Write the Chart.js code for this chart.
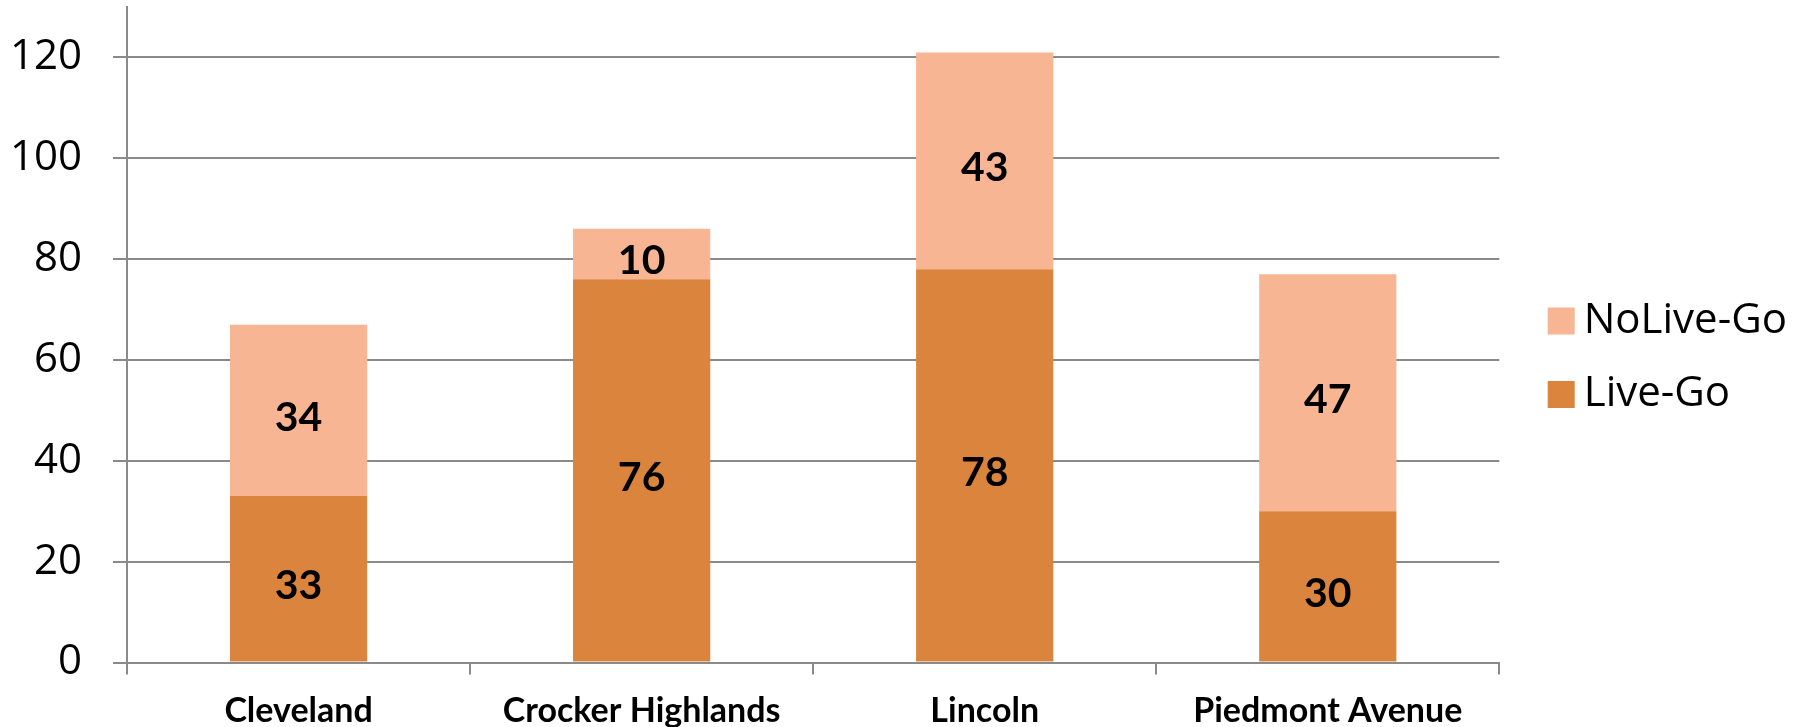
<!DOCTYPE html>
<html>
<head>
<meta charset="utf-8">
<script src="https://cdn.jsdelivr.net/npm/chart.js@4/dist/chart.umd.min.js"></script>
<style>
  html, body { margin: 0; padding: 0; background: #fff; overflow: hidden; }
  #wrap { width: 1808px; height: 727px; position: relative; }
</style>
</head>
<body>
<div id="wrap"><canvas id="c"></canvas></div>
<script>
const categories = ["Cleveland", "Crocker Highlands", "Lincoln", "Piedmont Avenue"];
const liveGo = [33, 76, 78, 30];
const noLiveGo = [34, 10, 43, 47];
const yMax = 130;
const yTickValues = [0, 20, 40, 60, 80, 100, 120];

const gridGrey = "#8a8a8a";

Chart.defaults.font.family = "Lato";
Chart.defaults.color = "#000";

// value labels in the middle of each segment
const segmentLabels = {
  id: "segmentLabels",
  afterDatasetsDraw(chart) {
    const ctx = chart.ctx;
    ctx.save();
    ctx.font = "bold 41px Lato";
    ctx.fillStyle = "#000";
    ctx.textAlign = "center";
    ctx.textBaseline = "middle";
    chart.data.datasets.forEach((ds, i) => {
      chart.getDatasetMeta(i).data.forEach((bar, j) => {
        const mid = (bar.y + bar.base) / 2;
        ctx.fillText(String(ds.data[j]), bar.x, mid + 7);
      });
    });
    ctx.restore();
  }
};

// legend sits a bit higher and further right than chart.js puts it
const nudgeLegend = {
  id: "nudgeLegend",
  afterLayout(chart) {
    const lg = chart.legend;
    if (!lg) return;
    lg.top -= 20;
    lg.bottom -= 20;
    lg.left += 29;
    lg.right += 29;
  }
};

new Chart(document.getElementById("c"), {
  type: "bar",
  data: {
    labels: categories,
    datasets: [
      {
        label: "Live-Go",
        data: liveGo,
        backgroundColor: "#DB843D",
        borderWidth: 0
      },
      {
        label: "NoLive-Go",
        data: noLiveGo,
        backgroundColor: "#F8B593",
        borderWidth: 0
      }
    ]
  },
  options: {
    responsive: true,
    maintainAspectRatio: false,
    animation: false,
    barPercentage: 0.4,
    categoryPercentage: 1.0,
    layout: { padding: { left: -21, top: 7, right: 40, bottom: -21.5 } },
    plugins: {
      tooltip: { enabled: false },
      legend: {
        position: "right",
        reverse: true,
        labels: {
          usePointStyle: true,
          pointStyle: "rect",
          boxWidth: 3,
          boxHeight: 27,
          padding: 31.4,
          color: "#000",
          font: { family: "Open Sans", size: 42 }
        }
      }
    },
    scales: {
      x: {
        stacked: true,
        offset: true,
        grid: {
          offset: true,
          drawOnChartArea: false,
          drawTicks: true,
          tickLength: 12,
          color: gridGrey,
          lineWidth: 2
        },
        border: { display: true, color: gridGrey, width: 2 },
        ticks: {
          padding: 20,
          color: "#000",
          maxRotation: 0,
          font: { size: 34, weight: "bold", lineHeight: 1.0 }
        }
      },
      y: {
        stacked: true,
        min: 0,
        max: yMax,
        bounds: "data",
        afterBuildTicks: (scale) => {
          scale.ticks = yTickValues.map(v => ({ value: v }));
        },
        afterFit: (scale) => { scale.paddingTop = 0; },
        grid: {
          color: gridGrey,
          lineWidth: 2,
          tickLength: 14
        },
        border: { display: true, color: gridGrey, width: 2 },
        ticks: {
          padding: 31,
          color: "#000",
          font: { family: "Open Sans", size: 42, lineHeight: 1.0 }
        }
      }
    }
  },
  plugins: [segmentLabels, nudgeLegend]
});
</script>
</body>
</html>
